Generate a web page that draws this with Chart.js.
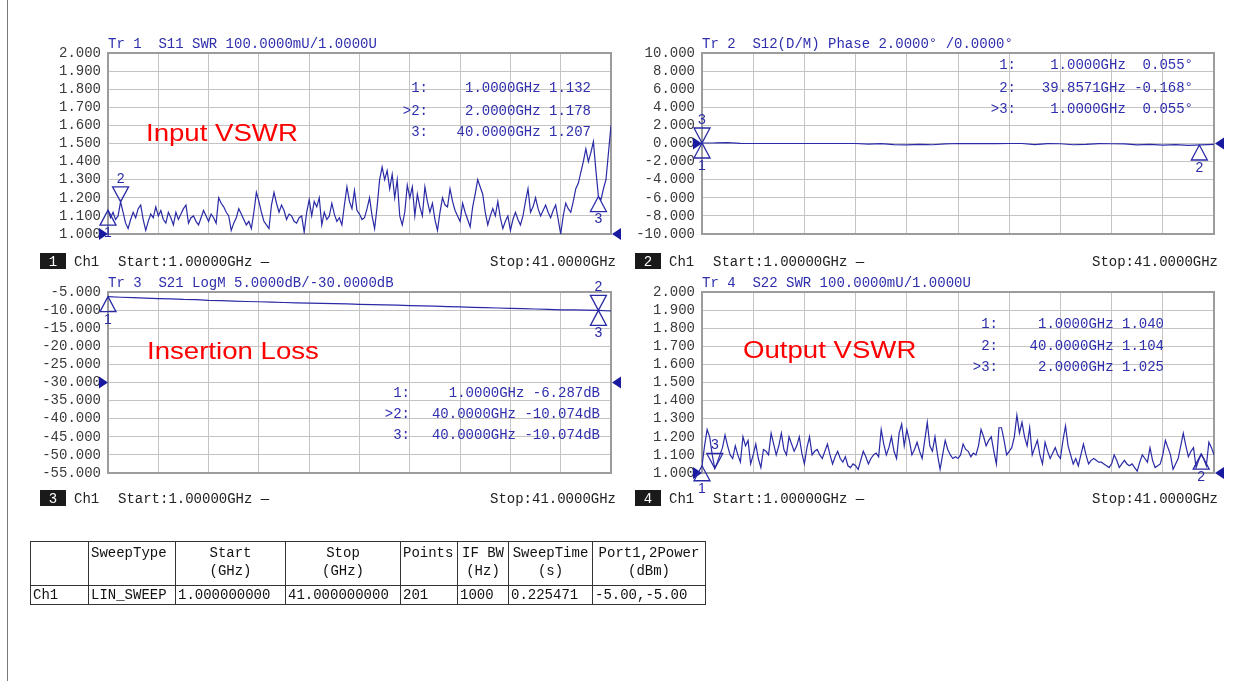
<!DOCTYPE html>
<html>
<head>
<meta charset="utf-8">
<title>Ch1 S-parameters</title>
<script src="https://cdn.jsdelivr.net/npm/chart.js@4.4.1/dist/chart.umd.min.js"></script>
<style>
  html, body { margin: 0; padding: 0; background: #fff; }
  body { position: relative; width: 1249px; height: 681px; overflow: hidden; font-family: 'Liberation Mono', monospace; }
  .frame { position: absolute; left: 7px; top: 0; width: 1px; height: 681px; background: #7a7a7a; }
  canvas.panel { position: absolute; left: 0; top: 0; }
  table.sweep {
    position: absolute; left: 30px; top: 541px; width: 675px;
    border-collapse: collapse; table-layout: fixed;
    font: 14px 'Liberation Mono', monospace; color: #111;
  }
  table.sweep td { border: 1px solid #333; padding: 0 2px; line-height: 18px; white-space: nowrap; overflow: hidden; }
  table.sweep tr.head td { height: 41px; vertical-align: top; padding-top: 2px; }
  table.sweep td.c { text-align: center; }
</style>
</head>
<body>
<div class="frame"></div>
<canvas class="panel" id="tr1" width="1249" height="681"></canvas>
<canvas class="panel" id="tr2" width="1249" height="681"></canvas>
<canvas class="panel" id="tr3" width="1249" height="681"></canvas>
<canvas class="panel" id="tr4" width="1249" height="681"></canvas>

<table class="sweep">
  <colgroup>
    <col style="width:58px"><col style="width:87px"><col style="width:110px"><col style="width:115px">
    <col style="width:57px"><col style="width:51px"><col style="width:84px"><col style="width:113px">
  </colgroup>
  <tr class="head">
    <td></td>
    <td>SweepType</td>
    <td class="c">Start<br>(GHz)</td>
    <td class="c">Stop<br>(GHz)</td>
    <td>Points</td>
    <td class="c">IF BW<br>(Hz)</td>
    <td class="c">SweepTime<br>(s)</td>
    <td class="c">Port1,2Power<br>(dBm)</td>
  </tr>
  <tr>
    <td>Ch1</td><td>LIN_SWEEP</td><td>1.000000000</td><td>41.000000000</td>
    <td>201</td><td>1000</td><td>0.225471</td><td>-5.00,-5.00</td>
  </tr>
</table>

<script>
const sweepStart = 1;
const sweepStop = 41;

// S11 SWR, 201 points 1..41 GHz
const s11Swr = [
  1.132, 1.09, 1.12, 1.08, 1.10, 1.178, 1.12, 1.06, 1.03, 1.08,
  1.12, 1.09, 1.14, 1.16, 1.08, 1.02, 1.07, 1.11, 1.09, 1.15,
  1.10, 1.13, 1.08, 1.06, 1.12, 1.09, 1.05, 1.12, 1.08, 1.11,
  1.14, 1.16, 1.06, 1.09, 1.10, 1.07, 1.05, 1.09, 1.13, 1.10,
  1.07, 1.11, 1.09, 1.06, 1.20, 1.17, 1.15, 1.12, 1.10, 1.02,
  1.06, 1.09, 1.14, 1.11, 1.08, 1.05, 1.07, 1.03, 1.12, 1.23,
  1.18, 1.12, 1.07, 1.05, 1.03, 1.16, 1.23, 1.17, 1.12, 1.16,
  1.13, 1.08, 1.11, 1.10, 1.07, 1.06, 1.09, 1.10, 1.01, 1.12,
  1.19, 1.10, 1.18, 1.15, 1.20, 1.05, 1.12, 1.08, 1.10, 1.17,
  1.11, 1.07, 1.09, 1.05, 1.16, 1.26, 1.18, 1.14, 1.24, 1.13,
  1.11, 1.08, 1.09, 1.14, 1.20, 1.10, 1.03, 1.15, 1.30, 1.37,
  1.30, 1.35, 1.25, 1.33, 1.20, 1.30, 1.10, 1.05, 1.12, 1.27,
  1.20, 1.26, 1.10, 1.22, 1.15, 1.10, 1.26, 1.18, 1.12, 1.17,
  1.08, 1.02, 1.12, 1.20, 1.16, 1.15, 1.25, 1.18, 1.13, 1.10,
  1.07, 1.17, 1.12, 1.08, 1.04, 1.15, 1.22, 1.30, 1.26, 1.22,
  1.12, 1.05, 1.10, 1.14, 1.10, 1.18, 1.09, 1.03, 1.07, 1.10,
  1.02, 1.08, 1.12, 1.08, 1.05, 1.10, 1.18, 1.25, 1.12, 1.15,
  1.20, 1.14, 1.10, 1.13, 1.16, 1.12, 1.09, 1.13, 1.16, 1.08,
  1.00, 1.10, 1.17, 1.14, 1.12, 1.18, 1.25, 1.28, 1.34, 1.40,
  1.47, 1.40, 1.45, 1.51, 1.35, 1.207, 1.19, 1.25, 1.30, 1.45,
  1.60
];

// S12 phase (deg), 41 points 1..41 GHz
const s12Phase = [
  0.055, 0.06, 0.10, 0.02, 0.0, 0.0, 0.0, 0.0, 0.0, 0.0,
  0.0, 0.0, 0.0, -0.08, -0.02, -0.12, -0.15, -0.10, -0.14, -0.05,
  0.0, -0.02, 0.0, -0.02, 0.0, 0.0, -0.12, -0.02, -0.03, -0.14,
  -0.10, -0.02, -0.03, -0.05, -0.15, -0.10, -0.18, -0.12, -0.20, -0.15,
  -0.10
];

// S21 log mag (dB), 41 points 1..41 GHz
const s21LogMag = [
  -6.29, -6.45, -6.55, -6.70, -6.82, -6.90, -7.05, -7.12, -7.30, -7.38,
  -7.50, -7.62, -7.70, -7.82, -7.90, -7.98, -8.08, -8.15, -8.22, -8.30,
  -8.40, -8.47, -8.58, -8.65, -8.78, -8.85, -8.92, -9.05, -9.12, -9.22,
  -9.30, -9.42, -9.50, -9.58, -9.70, -9.78, -9.92, -9.95, -10.02, -10.074,
  -10.25
];

// S22 SWR, 201 points 1..41 GHz
const s22Swr = [
  1.04, 1.15, 1.24, 1.20, 1.10, 1.025, 1.06, 1.10, 1.14, 1.21,
  1.15, 1.10, 1.08, 1.15, 1.10, 1.06, 1.20, 1.15, 1.18, 1.05,
  1.10, 1.16, 1.08, 1.03, 1.13, 1.12, 1.10, 1.22, 1.16, 1.10,
  1.15, 1.22, 1.13, 1.10, 1.20, 1.16, 1.12, 1.15, 1.20, 1.11,
  1.05, 1.14, 1.20, 1.10, 1.12, 1.13, 1.10, 1.08, 1.12, 1.16,
  1.10, 1.05, 1.09, 1.12, 1.08, 1.06, 1.09, 1.04, 1.03, 1.05,
  1.04, 1.02, 1.07, 1.12, 1.09, 1.05, 1.08, 1.10, 1.11, 1.09,
  1.24, 1.16, 1.10, 1.14, 1.20, 1.12, 1.08, 1.22, 1.27, 1.15,
  1.24, 1.18, 1.10, 1.13, 1.17, 1.12, 1.08, 1.18, 1.28, 1.15,
  1.12, 1.20, 1.10, 1.02, 1.10, 1.18, 1.13, 1.10, 1.08, 1.09,
  1.08, 1.10, 1.16, 1.13, 1.12, 1.09, 1.11, 1.10, 1.15, 1.24,
  1.20, 1.15, 1.18, 1.20, 1.12, 1.05, 1.25, 1.25, 1.18, 1.10,
  1.12, 1.14, 1.20, 1.32, 1.22, 1.28, 1.20, 1.15, 1.25, 1.10,
  1.14, 1.18, 1.10, 1.05, 1.17, 1.12, 1.08, 1.11, 1.14, 1.10,
  1.08, 1.18, 1.26, 1.15, 1.10, 1.05, 1.08, 1.04, 1.10, 1.16,
  1.10, 1.05, 1.07, 1.08, 1.07, 1.06, 1.06, 1.05, 1.04, 1.03,
  1.05, 1.10, 1.07, 1.03, 1.05, 1.07, 1.05, 1.04, 1.05, 1.03,
  1.01, 1.06, 1.10, 1.08, 1.06, 1.14, 1.07, 1.03, 1.04, 1.05,
  1.10, 1.18, 1.14, 1.10, 1.02, 1.05, 1.08, 1.15, 1.22, 1.15,
  1.09, 1.12, 1.14, 1.03, 1.07, 1.104, 1.08, 1.04, 1.17, 1.14,
  1.10
];

// markers: frequency (GHz) and readout value
const s11MarkerFreq = [1, 2, 40];
const s11MarkerVal = [1.132, 1.178, 1.207];
const s12MarkerFreq = [1, 39.8571, 1];
const s12MarkerVal = [0.055, -0.168, 0.055];
const s21MarkerFreq = [1, 40, 40];
const s21MarkerVal = [-6.287, -10.074, -10.074];
const s22MarkerFreq = [1, 40, 2];
const s22MarkerVal = [1.040, 1.104, 1.025];

const TRACE = '#2a2aa6';
const TEXT_BLUE = '#2f2fae';
const MONO = "'Liberation Mono', monospace";

function sweep(count) {
  const step = (sweepStop - sweepStart) / (count - 1);
  return Array.from({ length: count }, (_, i) => sweepStart + i * step);
}

const panels = [
  {
    id: 'tr1', values: s11Swr, markerFreq: s11MarkerFreq, markerVal: s11MarkerVal,
    markerSide: ['up', 'down', 'up'], active: 1,
    yMin: 1, yMax: 2, yStep: 0.1, refLevel: 1,
    area: { left: 108, top: 53, right: 611, bottom: 234 },
    title: 'Tr 1  S11 SWR 100.0000mU/1.0000U',
    fmt: v => v.toFixed(3),
    readout: { right: 591, label: 428, y: [88, 111, 132] },
    note: { text: 'Input VSWR', x: 146, y: 133 },
    footer: { num: '1', box: 40, y: 261, stop: 616 },
  },
  {
    id: 'tr2', values: s12Phase, markerFreq: s12MarkerFreq, markerVal: s12MarkerVal,
    markerSide: ['up', 'up', 'down'], active: 2,
    yMin: -10, yMax: 10, yStep: 2, refLevel: 0,
    area: { left: 702, top: 53, right: 1214, bottom: 234 },
    title: 'Tr 2  S12(D/M) Phase 2.0000° /0.0000°',
    fmt: v => (v < 0 ? '' : ' ') + v.toFixed(3) + '°',
    readout: { right: 1193, label: 1016, y: [65, 88, 109] },
    footer: { num: '2', box: 635, y: 261, stop: 1218 },
  },
  {
    id: 'tr3', values: s21LogMag, markerFreq: s21MarkerFreq, markerVal: s21MarkerVal,
    markerSide: ['up', 'down', 'up'], active: 1,
    yMin: -55, yMax: -5, yStep: 5, refLevel: -30,
    area: { left: 108, top: 292, right: 611, bottom: 473 },
    title: 'Tr 3  S21 LogM 5.0000dB/-30.0000dB',
    fmt: v => v.toFixed(3) + 'dB',
    readout: { right: 600, label: 410, y: [393, 414, 435] },
    note: { text: 'Insertion Loss', x: 147, y: 351 },
    footer: { num: '3', box: 40, y: 498, stop: 616 },
  },
  {
    id: 'tr4', values: s22Swr, markerFreq: s22MarkerFreq, markerVal: s22MarkerVal,
    markerSide: ['up', 'up', 'down'], active: 2,
    yMin: 1, yMax: 2, yStep: 0.1, refLevel: 1,
    area: { left: 702, top: 292, right: 1214, bottom: 473 },
    title: 'Tr 4  S22 SWR 100.0000mU/1.0000U',
    fmt: v => v.toFixed(3),
    readout: { right: 1164, label: 998, y: [324, 346, 367] },
    note: { text: 'Output VSWR', x: 743, y: 350 },
    footer: { num: '4', box: 635, y: 498, stop: 1218 },
  },
];

const decor = {
  id: 'decor',
  beforeDatasetsDraw(chart, args, p) {
    const { ctx, chartArea: a } = chart;
    ctx.save();
    ctx.strokeStyle = '#9c9c9c';
    ctx.lineWidth = 2;
    ctx.strokeRect(a.left, a.top, a.right - a.left, a.bottom - a.top);
    ctx.restore();
  },
  afterDatasetsDraw(chart, args, p) {
    const { ctx, chartArea: a, scales } = chart;
    ctx.save();

    // reference level arrows
    const ry = scales.y.getPixelForValue(p.refLevel);
    ctx.fillStyle = '#1a1aa0';
    ctx.beginPath();
    ctx.moveTo(a.left, ry); ctx.lineTo(a.left - 9, ry - 6); ctx.lineTo(a.left - 9, ry + 6);
    ctx.closePath(); ctx.fill();
    ctx.beginPath();
    ctx.moveTo(a.right + 1, ry); ctx.lineTo(a.right + 10, ry - 6); ctx.lineTo(a.right + 10, ry + 6);
    ctx.closePath(); ctx.fill();

    // markers
    ctx.strokeStyle = '#2a2aa6';
    ctx.lineWidth = 1.3;
    ctx.fillStyle = '#2a2aa6';
    ctx.font = "14px 'Liberation Sans', Arial, sans-serif";
    ctx.textAlign = 'center';
    ctx.textBaseline = 'middle';
    p.markerFreq.forEach((f, k) => {
      const x = scales.x.getPixelForValue(f);
      const y = scales.y.getPixelForValue(p.markerVal[k]);
      const dir = p.markerSide[k] === 'up' ? 1 : -1;
      ctx.beginPath();
      ctx.moveTo(x, y);
      ctx.lineTo(x - 8, y + dir * 15);
      ctx.lineTo(x + 8, y + dir * 15);
      ctx.closePath();
      ctx.stroke();
      ctx.fillText(String(k + 1), x, y + dir * 23);
    });

    // title and marker readouts
    ctx.font = '14px ' + MONO;
    ctx.fillStyle = TEXT_BLUE;
    ctx.textAlign = 'left';
    ctx.fillText(p.title, a.left, a.top - 8.5);
    p.markerFreq.forEach((f, k) => {
      const y = p.readout.y[k];
      ctx.textAlign = 'right';
      ctx.fillText((k === p.active ? '>' : '') + (k + 1) + ':', p.readout.label, y);
      ctx.fillText(f.toFixed(4) + 'GHz ' + p.fmt(p.markerVal[k]), p.readout.right, y);
    });

    // channel footer
    const ft = p.footer;
    ctx.fillStyle = '#1a1a1a';
    ctx.fillRect(ft.box, ft.y - 8, 26, 16);
    ctx.fillStyle = '#fff';
    ctx.textAlign = 'center';
    ctx.fillText(ft.num, ft.box + 13, ft.y + 1);
    ctx.fillStyle = '#222';
    ctx.textAlign = 'left';
    ctx.fillText('Ch1', ft.box + 34, ft.y + 1);
    ctx.fillText('Start:1.00000GHz —', ft.box + 78, ft.y + 1);
    ctx.textAlign = 'right';
    ctx.fillText('Stop:41.0000GHz', ft.stop, ft.y + 1);

    // red caption
    if (p.note) {
      ctx.fillStyle = '#ff0000';
      ctx.textAlign = 'left';
      ctx.font = "24px 'Liberation Sans', Arial, sans-serif";
      ctx.translate(p.note.x, p.note.y);
      ctx.scale(1.15, 1);
      ctx.fillText(p.note.text, 0, 1);
    }
    ctx.restore();
  }
};

panels.forEach(p => {
  const freqs = sweep(p.values.length);
  new Chart(document.getElementById(p.id), {
    type: 'line',
    data: {
      datasets: [{
        data: p.values.map((v, i) => ({ x: freqs[i], y: v })),
        borderColor: TRACE,
        borderWidth: 1.2,
        pointRadius: 0,
        tension: 0,
      }]
    },
    options: {
      responsive: false,
      animation: false,
      events: [],
      layout: {
        autoPadding: false,
        padding: { left: 0, top: p.area.top, right: 1249 - p.area.right, bottom: 681 - p.area.bottom },
      },
      plugins: {
        legend: { display: false },
        tooltip: { enabled: false },
        decor: p,
      },
      scales: {
        x: {
          type: 'linear', min: sweepStart, max: sweepStop,
          ticks: { display: false, stepSize: 4, autoSkip: false },
          grid: { color: '#c4c4c4', lineWidth: 1, drawTicks: false },
          border: { display: false },
          afterFit: s => { s.height = 0; },
        },
        y: {
          min: p.yMin, max: p.yMax,
          ticks: {
            stepSize: p.yStep, padding: 7, color: '#3a3a3a', autoSkip: false,
            font: { family: MONO, size: 14 },
            callback: v => Number(v).toFixed(3),
          },
          grid: { color: '#c4c4c4', lineWidth: 1, drawTicks: false },
          border: { display: false },
          afterFit: s => { s.width = p.area.left; },
        }
      }
    },
    plugins: [decor]
  });
});
</script>
</body>
</html>
